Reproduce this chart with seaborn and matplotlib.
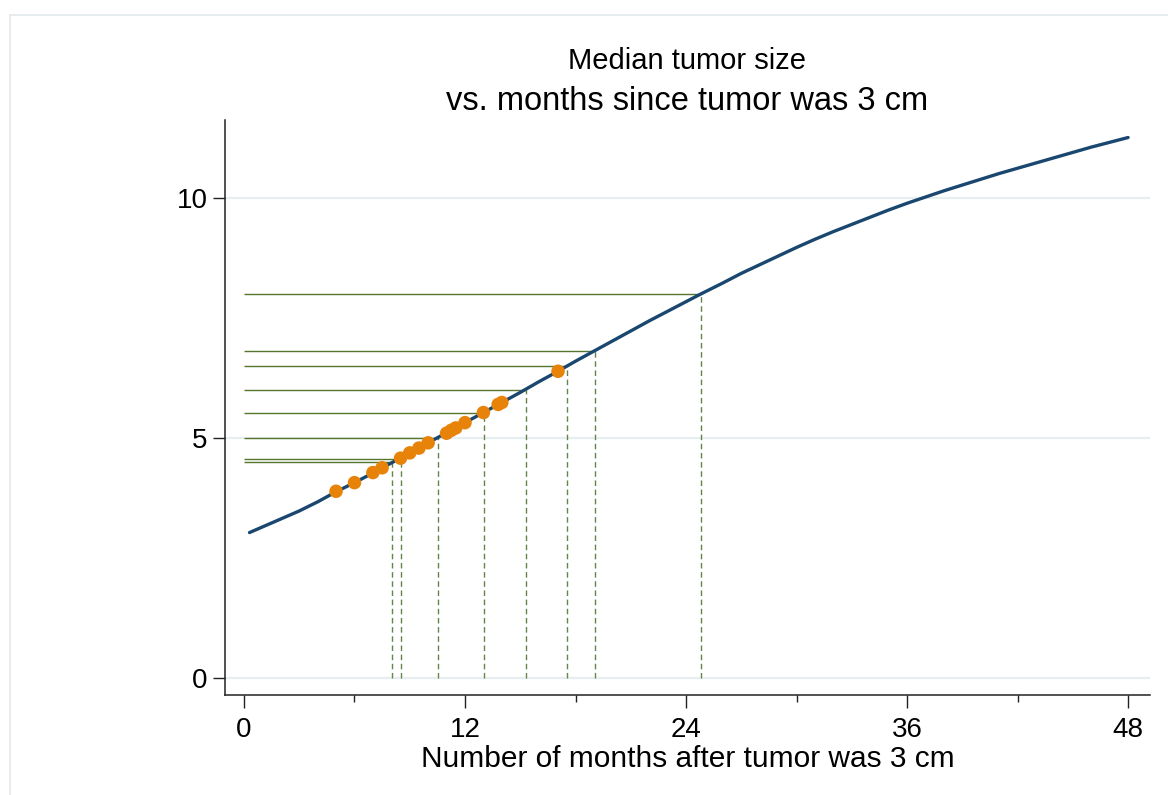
import matplotlib
matplotlib.use("Agg")
import matplotlib.pyplot as plt
from matplotlib.lines import Line2D
from matplotlib.ticker import FixedLocator
import numpy as np
import pandas as pd
import seaborn as sns

# Fitted median tumour size (cm) against months since the tumour measured 3 cm
months_curve = [0.3, 1.5, 3, 4, 5, 6, 7, 8, 9, 10, 11, 12, 13, 14, 15, 16,
                17, 18, 19, 20, 21, 22, 23, 24, 24.8, 26, 27, 28, 29, 30, 31,
                32, 33, 34, 35, 36, 37, 38, 39, 40, 41, 42, 43, 44, 45, 46,
                47, 48]
size_curve = [3.03, 3.23, 3.48, 3.67, 3.88, 4.07, 4.27, 4.48, 4.69, 4.90,
              5.11, 5.32, 5.53, 5.74, 5.95, 6.17, 6.38, 6.60, 6.81, 7.02,
              7.23, 7.44, 7.64, 7.84, 8.00, 8.23, 8.43, 8.61, 8.79, 8.97,
              9.14, 9.30, 9.45, 9.60, 9.75, 9.89, 10.02, 10.15, 10.27, 10.39,
              10.51, 10.62, 10.73, 10.84, 10.95, 11.06, 11.16, 11.26]

# Observed tumours placed on the curve
obs_months = [5.0, 6.0, 7.0, 7.5, 8.5, 9.0, 9.5, 10.0, 11.0, 11.25, 11.5,
              12.0, 13.0, 13.8, 14.0, 17.05]
obs_size = [3.89, 4.07, 4.28, 4.38, 4.58, 4.69, 4.79, 4.90, 5.10, 5.16, 5.21,
            5.32, 5.53, 5.70, 5.74, 6.39]

# Reference sizes and the month at which the curve reaches them
ref_months = [8.02, 8.51, 10.52, 13.03, 15.29, 17.56, 19.06, 24.81]
ref_size = [4.49, 4.57, 5.0, 5.53, 6.0, 6.5, 6.82, 8.0]

x_major = [0, 12, 24, 36, 48]
x_minor = [6, 18, 30, 42]
y_major = [0, 5, 10]

title_main = "Median tumor size"
title_sub = "vs. months since tumor was 3 cm"
x_label = "Number of months after tumor was 3 cm"

NAVY = "#1a476f"
ORANGE = "#e8830a"
GREEN = "#56762f"
GREEN_DASH = "#66844a"
GRID = "#e7eef0"
INK = "#000000"

sns.set_style("white")
plt.rcParams["font.family"] = ["Liberation Sans", "DejaVu Sans"]
plt.rcParams["text.color"] = INK
plt.rcParams["axes.labelcolor"] = INK
plt.rcParams["xtick.color"] = INK
plt.rcParams["ytick.color"] = INK

W, H = 1168, 795
fig = plt.figure(figsize=(W / 100, H / 100), dpi=100)
ax = fig.add_axes([225 / W, 1 - 695 / H, (1150 - 225) / W, (695 - 120) / H])

curve = pd.DataFrame({"month": months_curve, "size": size_curve})
obs = pd.DataFrame({"month": obs_months, "size": obs_size})

# Guide lines from the axes to the curve
ax.hlines(ref_size, 0, ref_months, colors=GREEN, lw=1.0, zorder=2)
ax.vlines(ref_months, 0, ref_size, colors=GREEN_DASH, lw=1.0,
          linestyles=(0, (4.0, 2.6)), zorder=2)

sns.lineplot(data=curve, x="month", y="size", color=NAVY, lw=2.4,
             estimator=None, sort=False, ax=ax, zorder=3)
sns.scatterplot(data=obs, x="month", y="size", color=ORANGE, s=95,
                edgecolor="none", linewidth=0, ax=ax, zorder=4)

ax.set_xlim(-1.03, 49.19)
ax.set_ylim(-0.354, 11.625)

ax.xaxis.set_major_locator(FixedLocator(x_major))
ax.xaxis.set_minor_locator(FixedLocator(x_minor))
ax.yaxis.set_major_locator(FixedLocator(y_major))
ax.set_xticklabels([str(v) for v in x_major])
ax.set_yticklabels([str(v) for v in y_major])

ax.tick_params(axis="x", which="major", direction="out", length=9, width=1.0,
               color="#222222", labelsize=20, pad=7, bottom=True)
ax.tick_params(axis="x", which="minor", direction="out", length=5, width=1.0,
               color="#222222", bottom=True)
ax.tick_params(axis="y", which="major", direction="out", length=8.6, width=1.0,
               color="#222222", labelsize=20, pad=4, left=True)

ax.grid(False)
ax.yaxis.grid(True, color=GRID, lw=1.6)
ax.set_axisbelow(True)

for side in ("top", "right"):
    ax.spines[side].set_visible(False)
for side in ("left", "bottom"):
    ax.spines[side].set_color("#222222")
    ax.spines[side].set_linewidth(1.1)

ax.set_xlabel(x_label, fontsize=21.5, labelpad=1)
ax.set_ylabel("")

cx = (225 + 1150) / 2 / W
fig.text(cx, 1 - 61 / H, title_main, ha="center", va="center", fontsize=21)
fig.text(cx, 1 - 101 / H, title_sub, ha="center", va="center", fontsize=23.5)

# Light frame around the graph region
fig.add_artist(Line2D([10 / W, 1], [1 - 15 / H, 1 - 15 / H],
                      transform=fig.transFigure, color="#e3e9eb", lw=1.2))
fig.add_artist(Line2D([10 / W, 10 / W], [0, 1 - 15 / H],
                      transform=fig.transFigure, color="#e3e9eb", lw=1.2))

fig.savefig("out.png", dpi=100, facecolor="white")
